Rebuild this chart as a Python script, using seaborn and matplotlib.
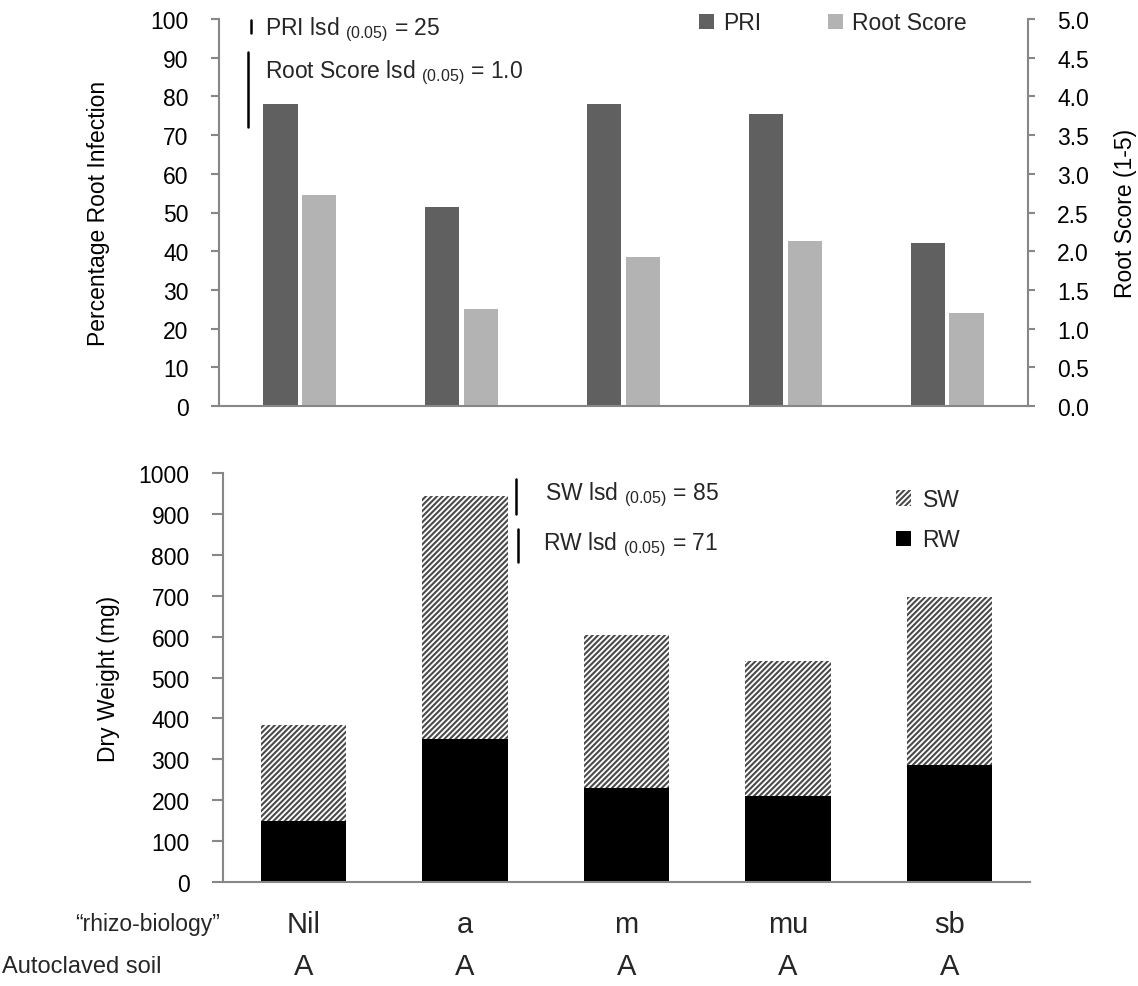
import matplotlib
matplotlib.use("Agg")
import matplotlib.pyplot as plt
import seaborn as sns
import pandas as pd
from matplotlib.patches import Patch
from matplotlib.lines import Line2D
from matplotlib.transforms import blended_transform_factory

# ---------------- data ----------------
treatments = ["Nil", "a", "m", "mu", "sb"]
soil = ["A", "A", "A", "A", "A"]
pri = [78, 51.5, 78, 75.5, 42]
root_score = [2.73, 1.25, 1.93, 2.13, 1.2]
rw = [150, 350, 230, 210, 285]
sw = [233, 593, 373, 330, 412]

pri_ticks = [0, 10, 20, 30, 40, 50, 60, 70, 80, 90, 100]
rs_ticks = [0.0, 0.5, 1.0, 1.5, 2.0, 2.5, 3.0, 3.5, 4.0, 4.5, 5.0]
dw_ticks = [0, 100, 200, 300, 400, 500, 600, 700, 800, 900, 1000]

series_order = ["PRI", "Root Score"]
weight_order = ["SW", "RW"]

# ---------------- style ----------------
sns.set_theme(style="ticks")
plt.rcParams["font.family"] = ["Liberation Sans", "DejaVu Sans"]
plt.rcParams["mathtext.fontset"] = "custom"
plt.rcParams["mathtext.rm"] = "Liberation Sans"
plt.rcParams["mathtext.it"] = "Liberation Sans:italic"
plt.rcParams["hatch.linewidth"] = 1.5

W, H = 1138, 987
SPINE = "#878787"
FS = 16.5

fig = plt.figure(figsize=(W / 100, H / 100), dpi=100)


def fx(px):
    return px / W


def fy(py):
    return 1 - py / H


# ---------------- top panel ----------------
PRI_MAX, RS_MAX = 100, 5
ax1 = fig.add_axes([fx(219), fy(407), fx(1028) - fx(219), fy(20) - fy(407)])
ax2 = ax1.twinx()

palette = {"PRI": "#606060", "Root Score": "#b3b3b3"}
# Root Score is drawn on the left scale, mapped through the twin (right) axis range
scale = PRI_MAX / RS_MAX
df_top = pd.DataFrame({
    "treatment": treatments * 2,
    "series": ["PRI"] * len(treatments) + ["Root Score"] * len(treatments),
    "value": list(pri) + [v * scale for v in root_score],
})
sns.barplot(data=df_top, x="treatment", y="value", hue="series",
            hue_order=series_order, order=treatments, palette=palette,
            width=0.48, gap=0.12, linewidth=0, saturation=1, legend=False, ax=ax1)

ax1.set_ylim(0, PRI_MAX)
ax2.set_ylim(0, RS_MAX)
ax1.set_xlim(-0.5, len(treatments) - 0.5)
ax1.set_yticks(pri_ticks)
ax2.set_yticks(rs_ticks)
ax2.set_yticklabels([f"{t:.1f}" for t in rs_ticks])

ax1.set_xlabel("")
ax1.set_ylabel("Percentage Root Infection", fontsize=FS, color="black")
ax2.set_ylabel("Root Score (1-5)", fontsize=FS, color="black")
ax1.yaxis.set_label_coords(fx(110), 0.5 * (fy(20) + fy(407)), transform=fig.transFigure)
ax2.yaxis.set_label_coords(fx(1114), 0.5 * (fy(20) + fy(407)), transform=fig.transFigure)

for ax in (ax1, ax2):
    for s in ax.spines.values():
        s.set_color(SPINE)
        s.set_linewidth(1.5)
    ax.tick_params(axis="x", length=0, labelbottom=False)
ax1.spines["top"].set_visible(False)
ax1.spines["right"].set_visible(False)
ax2.spines["top"].set_visible(False)
ax2.spines["left"].set_visible(False)
ax2.spines["bottom"].set_visible(False)
ax1.tick_params(axis="y", direction="out", length=6, width=1.5, color=SPINE,
                labelsize=FS, pad=16, labelcolor="black")
ax2.tick_params(axis="y", direction="out", length=5, width=1.5, color=SPINE,
                labelsize=FS, pad=16, labelcolor="black")

top_handles = [Patch(facecolor=palette[s], edgecolor="none") for s in series_order]
fig.legend(top_handles, series_order, loc="center left",
           bbox_to_anchor=(fx(690), fy(24)), ncol=2, frameon=False,
           fontsize=FS, handlelength=0.65, handleheight=0.65,
           handletextpad=0.4, columnspacing=2.9, borderaxespad=0)

# lsd markers top
fig.add_artist(Line2D([fx(251), fx(251)], [fy(21), fy(34)], color="black", lw=1.8))
fig.add_artist(Line2D([fx(248), fx(248)], [fy(53), fy(128)], color="black", lw=1.8))
fig.text(fx(265), fy(30), r"PRI lsd $_{\mathrm{(0.05)}}$ = 25", fontsize=FS,
         ha="left", va="center")
fig.text(fx(265), fy(73), r"Root Score lsd $_{\mathrm{(0.05)}}$ = 1.0", fontsize=FS,
         ha="left", va="center")

# ---------------- bottom panel ----------------
ax3 = fig.add_axes([fx(223), fy(883), fx(1030) - fx(223), fy(474) - fy(883)])

total = [a + b for a, b in zip(sw, rw)]
df_tot = pd.DataFrame({"treatment": treatments, "value": total})
df_rw = pd.DataFrame({"treatment": treatments, "value": rw})

HATCH_COL = "#4a4a4a"
sns.barplot(data=df_tot, x="treatment", y="value", order=treatments,
            color="white", width=0.53, linewidth=0, ax=ax3)
for p in ax3.patches:
    p.set_facecolor("white")
    p.set_edgecolor(HATCH_COL)
    p.set_hatch("//////")
    p.set_linewidth(0)
sns.barplot(data=df_rw, x="treatment", y="value", order=treatments,
            color="black", width=0.53, linewidth=0, saturation=1, ax=ax3)

ax3.set_ylim(0, 1000)
ax3.set_xlim(-0.5, len(treatments) - 0.5)
ax3.set_yticks(dw_ticks)
ax3.set_xlabel("")
ax3.set_ylabel("Dry Weight (mg)", fontsize=FS, color="black")
ax3.yaxis.set_label_coords(fx(120), 0.5 * (fy(474) + fy(883)), transform=fig.transFigure)
for s in ax3.spines.values():
    s.set_color(SPINE)
    s.set_linewidth(1.5)
ax3.spines["top"].set_visible(False)
ax3.spines["right"].set_visible(False)
ax3.tick_params(axis="x", length=0, labelbottom=False)
ax3.tick_params(axis="y", direction="out", length=8, width=1.5, color=SPINE,
                labelsize=FS, pad=16, labelcolor="black")

bot_handles = [Patch(facecolor="white", edgecolor=HATCH_COL, hatch="//////", linewidth=0),
               Patch(facecolor="black", edgecolor="none")]
fig.legend(bot_handles, weight_order, loc="upper left",
           bbox_to_anchor=(fx(887), fy(480)), frameon=False, fontsize=FS,
           handlelength=0.65, handleheight=0.65, handletextpad=0.5,
           labelspacing=0.75, borderaxespad=0)

fig.add_artist(Line2D([fx(516), fx(516)], [fy(480), fy(515)], color="black", lw=1.8))
fig.add_artist(Line2D([fx(518), fx(518)], [fy(530), fy(563)], color="black", lw=1.8))
fig.text(fx(545), fy(495), r"SW lsd $_{\mathrm{(0.05)}}$ = 85", fontsize=FS,
         ha="left", va="center")
fig.text(fx(543), fy(545), r"RW lsd $_{\mathrm{(0.05)}}$ = 71", fontsize=FS,
         ha="left", va="center")

# category rows below
blend = blended_transform_factory(ax3.transData, fig.transFigure)
for i, (t, s) in enumerate(zip(treatments, soil)):
    fig.text(i, fy(925), t, transform=blend, fontsize=21, ha="center", va="center")
    fig.text(i, fy(967), s, transform=blend, fontsize=21, ha="center", va="center")
fig.text(fx(75), fy(925), "\u201crhizo-biology\u201d", fontsize=16.5, ha="left", va="center")
fig.text(fx(2), fy(967), "Autoclaved soil", fontsize=17, ha="left", va="center")

fig.savefig("out.png", dpi=100, facecolor="white")
